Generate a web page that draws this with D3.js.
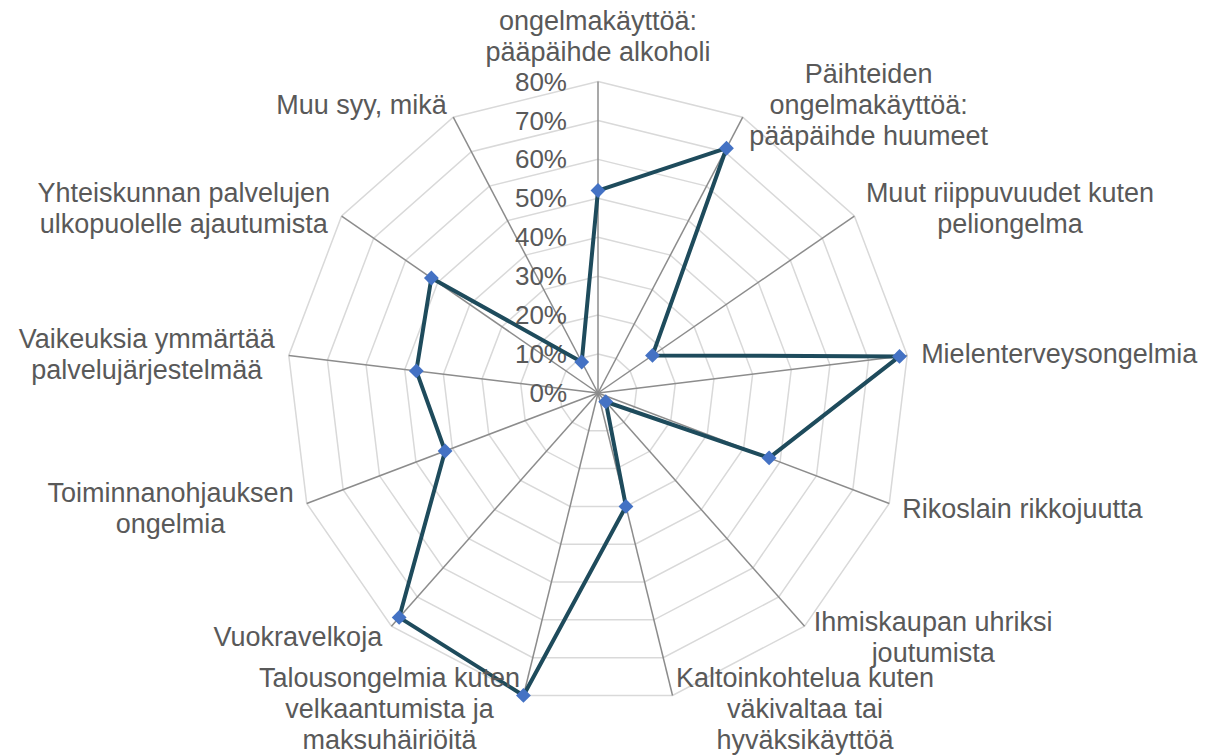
<!DOCTYPE html>
<html>
<head>
<meta charset="utf-8">
<script src="https://cdn.jsdelivr.net/npm/d3@7"></script>
<style>
  html, body { margin: 0; padding: 0; background: #fff; }
  svg { display: block; font-family: "Liberation Sans", Arial, sans-serif; }
  .cat-label { fill: #595959; font-size: 27px; }
  .tick-label { fill: #595959; font-size: 26px; }
</style>
</head>
<body>
<div id="chart"></div>
<script>
// ---------- Data ----------
const categories = [
  ['Päihteiden', 'ongelmakäyttöä:', 'pääpäihde alkoholi'],
  ['Päihteiden', 'ongelmakäyttöä:', 'pääpäihde huumeet'],
  ['Muut riippuvuudet kuten', 'peliongelma'],
  ['Mielenterveysongelmia'],
  ['Rikoslain rikkojuutta'],
  ['Ihmiskaupan uhriksi', 'joutumista'],
  ['Kaltoinkohtelua kuten', 'väkivaltaa tai', 'hyväksikäyttöä'],
  ['Talousongelmia kuten', 'velkaantumista ja', 'maksuhäiriöitä'],
  ['Vuokravelkoja'],
  ['Toiminnanohjauksen', 'ongelmia'],
  ['Vaikeuksia ymmärtää', 'palvelujärjestelmää'],
  ['Yhteiskunnan palvelujen', 'ulkopuolelle ajautumista'],
  ['Muu syy, mikä']
]

const values = [52, 71, 17, 78, 47, 3, 30, 80, 77, 42, 47, 52, 9]

const tickValues = [0, 10, 20, 30, 40, 50, 60, 70, 80]

// ---------- Dimensions ----------
const width = 1211
const height = 756
const cx = 598
const cy = 393
const radius = 311.5
const lineH = 31
const labelGap = 14

const n = categories.length
const angle = i => (i / n) * 2 * Math.PI

const r = d3.scaleLinear().domain([0, 80]).range([0, radius])

const pt = (i, v) => [r(v) * Math.sin(angle(i)), -r(v) * Math.cos(angle(i))]

const svg = d3.select('#chart')
  .append('svg')
  .attr('width', width)
  .attr('height', height)

const g = svg.append('g').attr('transform', `translate(${cx},${cy})`)

// ---------- Grid rings ----------
g.append('g')
  .selectAll('path')
  .data(tickValues.filter(t => t > 0))
  .join('path')
  .attr('d', t => d3.line()(d3.range(n).map(i => pt(i, t))) + 'Z')
  .attr('fill', 'none')
  .attr('stroke', '#d9d9d9')
  .attr('stroke-width', 1.5)

// ---------- Spokes ----------
g.append('g')
  .selectAll('line')
  .data(d3.range(n))
  .join('line')
  .attr('x1', 0)
  .attr('y1', 0)
  .attr('x2', i => pt(i, 80)[0])
  .attr('y2', i => pt(i, 80)[1])
  .attr('stroke', '#8c8c8c')
  .attr('stroke-width', 1.5)

// ---------- Tick labels ----------
g.append('g')
  .selectAll('text')
  .data(tickValues)
  .join('text')
  .attr('class', 'tick-label')
  .attr('x', -31)
  .attr('y', t => -r(t))
  .attr('dy', '0.35em')
  .attr('text-anchor', 'end')
  .text(t => `${t}%`)

// ---------- Data line ----------
g.append('path')
  .attr('d', d3.line()(values.map((v, i) => pt(i, v))) + 'Z')
  .attr('fill', 'none')
  .attr('stroke', '#1e4b5c')
  .attr('stroke-width', 4)
  .attr('stroke-linejoin', 'round')

// ---------- Markers ----------
g.append('g')
  .selectAll('path')
  .data(values)
  .join('path')
  .attr('d', d3.symbol(d3.symbolSquare, 110))
  .attr('transform', (v, i) => `translate(${pt(i, v)}) rotate(45)`)
  .attr('fill', '#4472c4')

// ---------- Category labels ----------
const labels = g.append('g')
  .selectAll('g')
  .data(categories)
  .join('g')

labels.each(function (lines, i) {
  const grp = d3.select(this)
  const s = Math.sin(angle(i))
  const c = Math.cos(angle(i))
  const ax = (radius + labelGap) * s
  const ay = -(radius + labelGap) * c

  const texts = grp.selectAll('text')
    .data(lines)
    .join('text')
    .attr('class', 'cat-label')
    .attr('text-anchor', 'middle')
    .attr('dy', '0.35em')
    .text(d => d)

  const w = d3.max(texts.nodes(), t => t.getComputedTextLength())
  const h = lines.length * lineH

  let bx = ax
  if (s > 0.1) bx = ax + w / 2
  else if (s < -0.1) bx = ax - w / 2

  let top = ay - h / 2
  if (Math.abs(s) <= 0.1) top = c > 0 ? ay - h : ay

  texts
    .attr('x', bx)
    .attr('y', (d, k) => top + (k + 0.5) * lineH)
})
</script>
</body>
</html>
